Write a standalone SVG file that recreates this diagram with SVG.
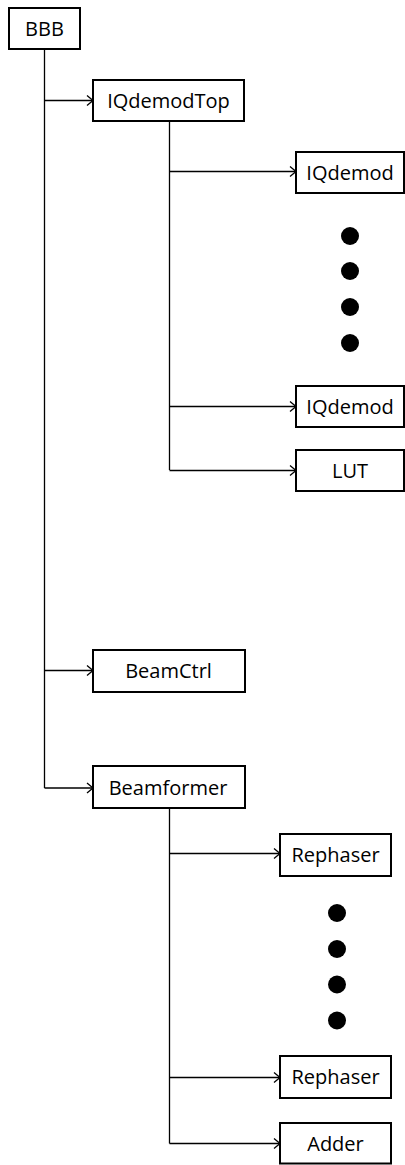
<svg xmlns="http://www.w3.org/2000/svg" width="405" height="1165" viewBox="0 0 405 1165">
<defs>
<style>
.box{fill:#fff;stroke:#000;stroke-width:2}
.lbl{font-family:"Open Sans","Liberation Sans",sans-serif;font-size:20px;fill:#000;text-anchor:middle}
.con{fill:none;stroke:#000;stroke-width:1.3}
.dot{fill:#000}
</style>
<marker id="arr" markerWidth="10" markerHeight="12" refX="7" refY="6" orient="auto" markerUnits="userSpaceOnUse">
<path d="M1,1 L7,6 L1,11" fill="none" stroke="#000" stroke-width="1.3"/>
</marker>
</defs>
<rect width="405" height="1165" fill="#fff"/>
<g id="connectors">
<path class="con" d="M44.5,49 V788"/>
<path class="con" d="M44.5,100.5 H93" marker-end="url(#arr)"/>
<path class="con" d="M44.5,670.5 H93" marker-end="url(#arr)"/>
<path class="con" d="M44.5,788 H93" marker-end="url(#arr)"/>
<path class="con" d="M169.5,121 V470"/>
<path class="con" d="M169.5,171.5 H296" marker-end="url(#arr)"/>
<path class="con" d="M169.5,406.5 H296" marker-end="url(#arr)"/>
<path class="con" d="M169.5,470.5 H296" marker-end="url(#arr)"/>
<path class="con" d="M169.5,808 V1143.5"/>
<path class="con" d="M169.5,853.5 H280" marker-end="url(#arr)"/>
<path class="con" d="M169.5,1077.5 H280" marker-end="url(#arr)"/>
<path class="con" d="M169.5,1143.5 H280" marker-end="url(#arr)"/>
</g>
<g id="BBB"><rect class="box" x="9" y="8" width="71" height="41"/><text class="lbl" x="44.5" y="35.5">BBB</text></g>
<g id="IQdemodTop"><rect class="box" x="93" y="80" width="151" height="41"/><text class="lbl" x="168.5" y="107.5">IQdemodTop</text></g>
<g id="IQdemod1"><rect class="box" x="296" y="152" width="108" height="41"/><text class="lbl" x="350" y="179.5">IQdemod</text></g>
<g id="dots1"><circle class="dot" cx="350" cy="236" r="9"/><circle class="dot" cx="350" cy="271" r="9"/><circle class="dot" cx="350" cy="307" r="9"/><circle class="dot" cx="350" cy="343" r="9"/></g>
<g id="IQdemod2"><rect class="box" x="296" y="386" width="108" height="41"/><text class="lbl" x="350" y="413.5">IQdemod</text></g>
<g id="LUT"><rect class="box" x="296" y="450" width="108" height="41"/><text class="lbl" x="350" y="477.5">LUT</text></g>
<g id="BeamCtrl"><rect class="box" x="93" y="650" width="152" height="42"/><text class="lbl" x="168.5" y="678">BeamCtrl</text></g>
<g id="Beamformer"><rect class="box" x="93" y="766" width="152" height="42"/><text class="lbl" x="168" y="794.5">Beamformer</text></g>
<g id="Rephaser1"><rect class="box" x="280" y="834" width="111" height="42"/><text class="lbl" x="335.5" y="862">Rephaser</text></g>
<g id="dots2"><circle class="dot" cx="337" cy="913" r="9"/><circle class="dot" cx="337" cy="949" r="9"/><circle class="dot" cx="337" cy="984.5" r="9"/><circle class="dot" cx="337" cy="1020.5" r="9"/></g>
<g id="Rephaser2"><rect class="box" x="280" y="1056" width="111" height="42"/><text class="lbl" x="335.5" y="1084">Rephaser</text></g>
<g id="Adder"><rect class="box" x="280" y="1123" width="111" height="40.5"/><text class="lbl" x="335.5" y="1150.5">Adder</text></g>
</svg>
